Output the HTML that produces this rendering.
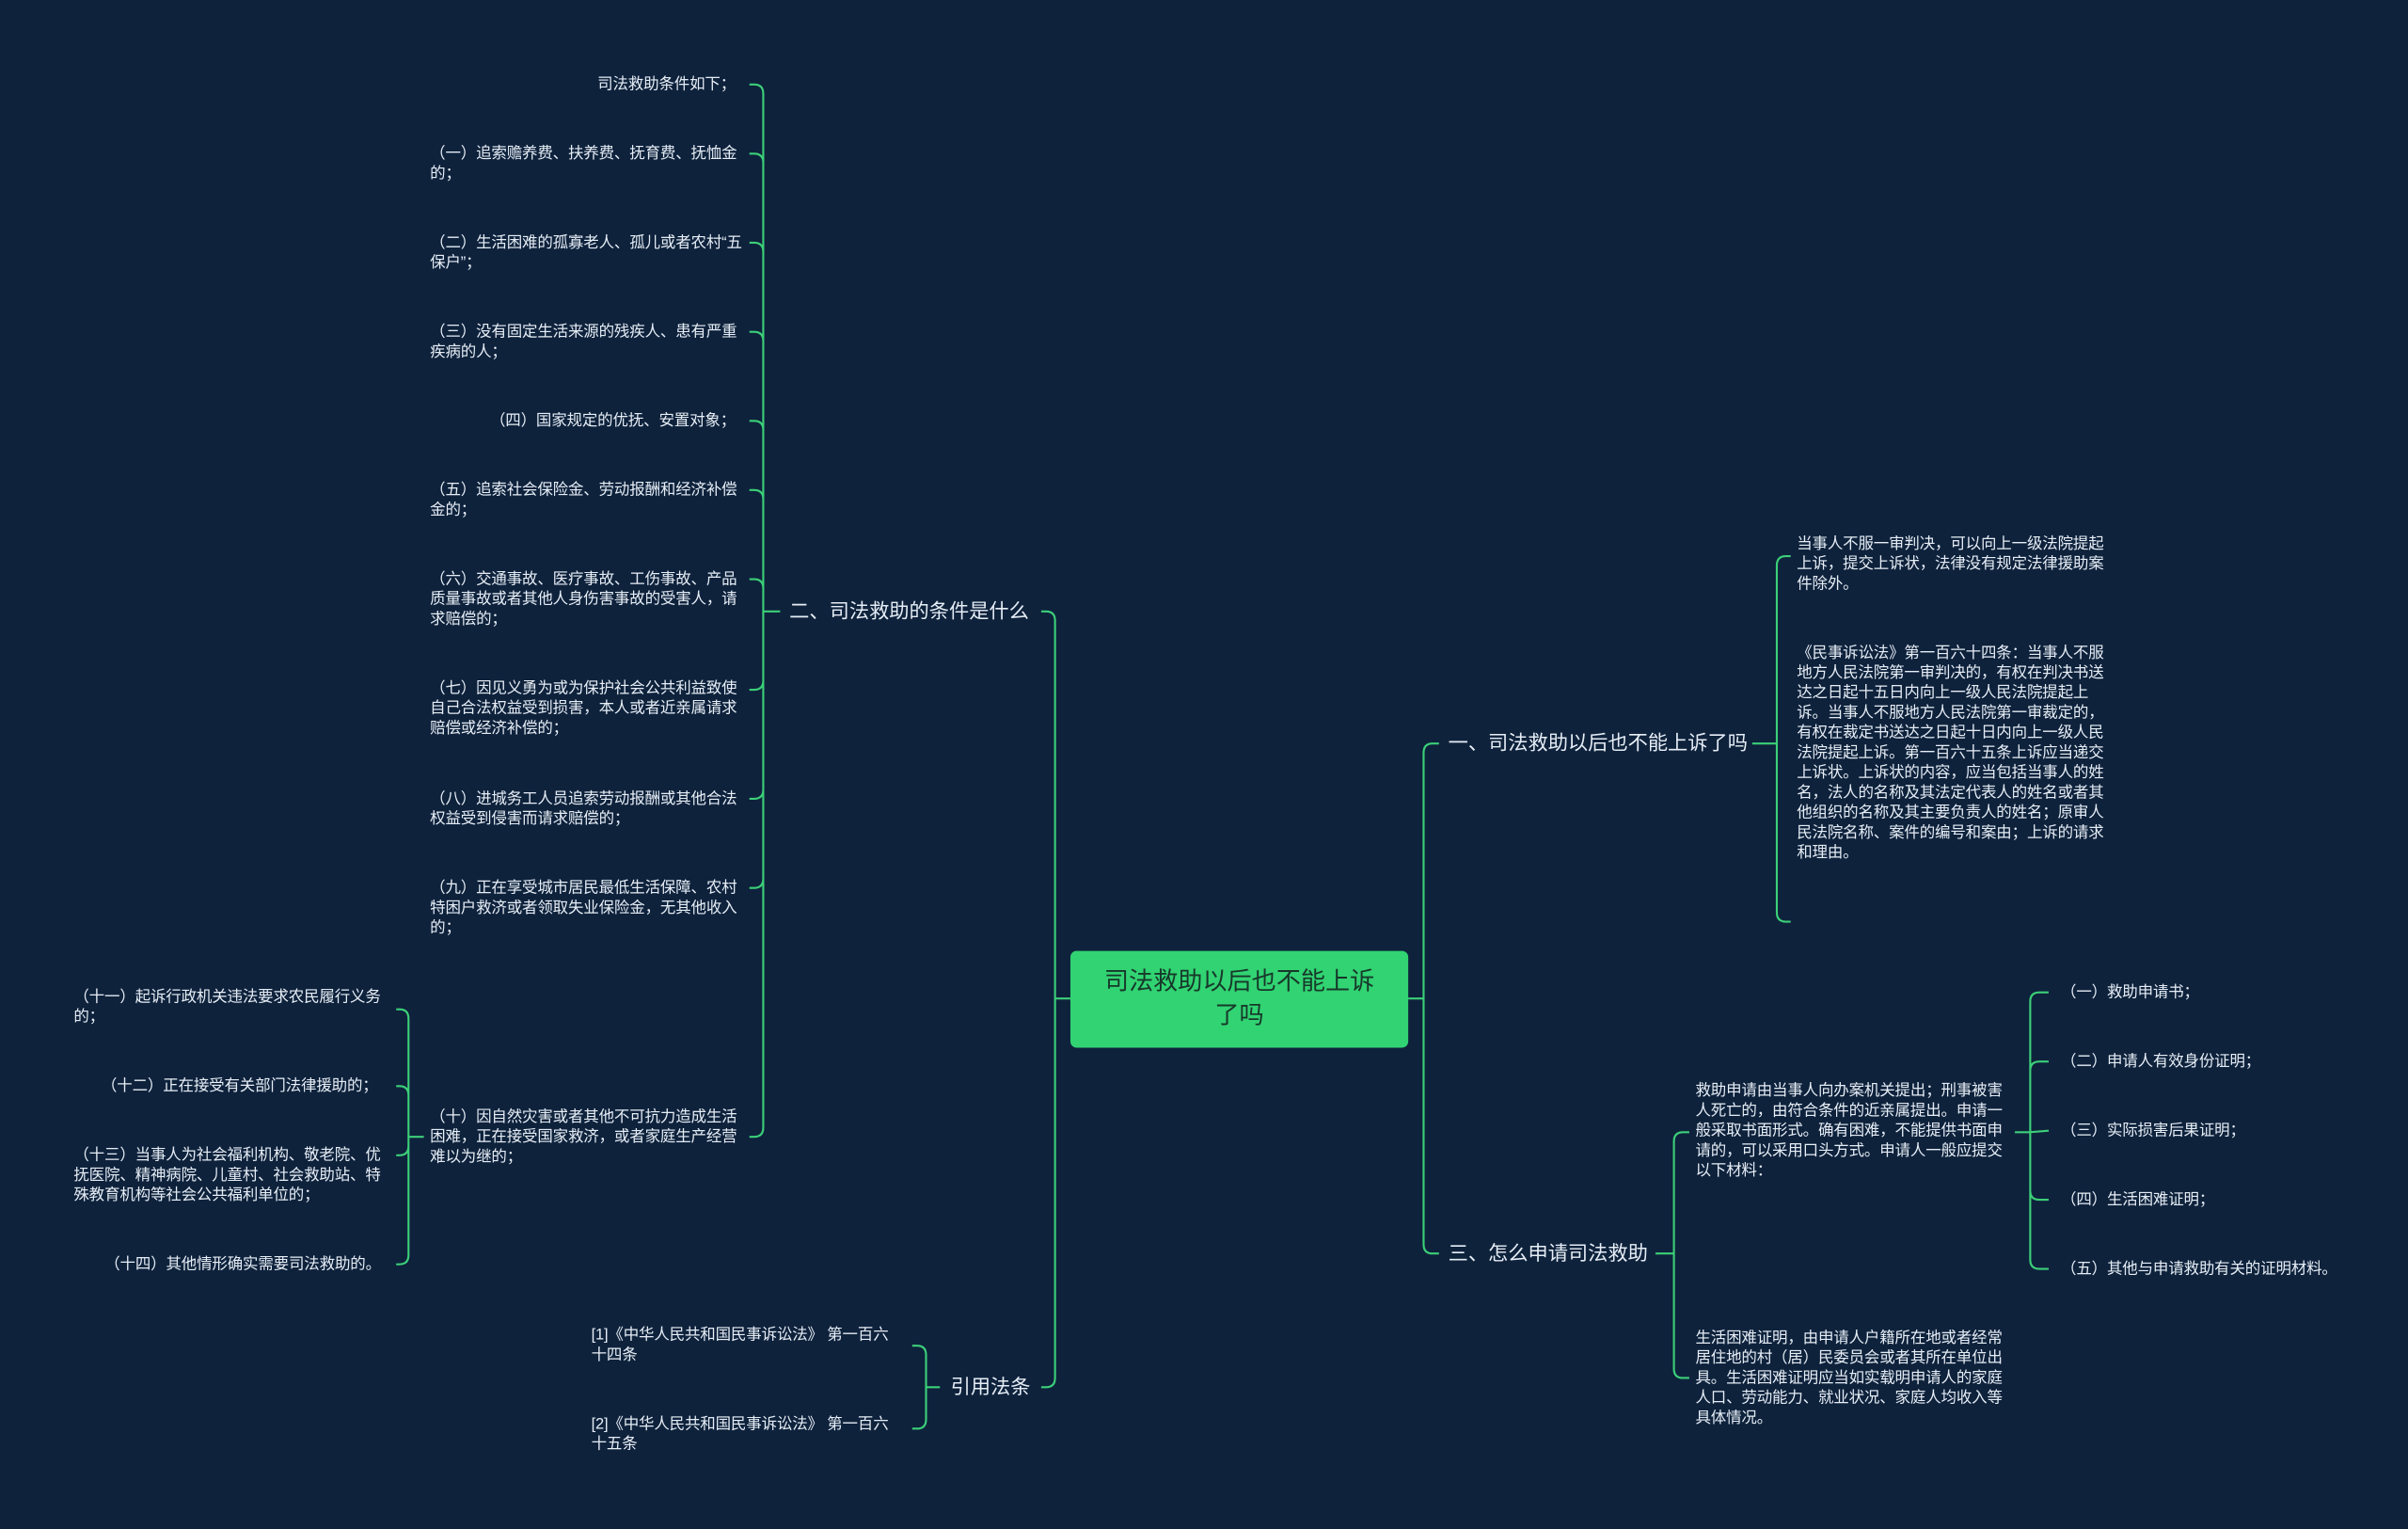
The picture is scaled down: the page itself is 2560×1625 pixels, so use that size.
<!DOCTYPE html>
<html><head><meta charset="utf-8">
<style>
html,body{margin:0;padding:0;background:#0e223c;overflow:hidden}
#stage{position:absolute;left:0;top:0;width:1568px;height:995px;transform:scale(1.63265);transform-origin:0 0;background:#0e223c;font-family:"Liberation Sans","Noto Sans CJK SC",sans-serif}
.t{position:absolute;color:#e6edf5;font-size:10.1px;line-height:13px;width:205px;letter-spacing:-0.1px}
.r{text-align:right}
.l{position:absolute;color:#e6edf5;font-size:13px;line-height:16px;white-space:nowrap}
#root{position:absolute;left:697px;top:619px;width:220px;height:63px;background:#31d372;border-radius:4px;color:#17382a;font-size:16px;line-height:22px;text-align:center;display:flex;align-items:center;justify-content:center;padding:0 18px;box-sizing:border-box}
svg{position:absolute;left:0;top:0}
</style></head><body>
<div id="stage">
<svg id="s" width="1568" height="995"></svg>
<div id="root">司法救助以后也不能上诉了吗</div>

<div class="l" style="left:514px;top:390px">二、司法救助的条件是什么</div>
<div class="l" style="left:619px;top:895px">引用法条</div>
<div class="l" style="left:943px;top:476px">一、司法救助以后也不能上诉了吗</div>
<div class="l" style="left:943px;top:808px">三、怎么申请司法救助</div>

<div class="t r" style="left:280px;top:49px;width:199px">司法救助条件如下；</div>
<div class="t" style="left:280px;top:94px">（一）追索赡养费、扶养费、抚育费、抚恤金的；</div>
<div class="t" style="left:280px;top:152px">（二）生活困难的孤寡老人、孤儿或者农村“五保户”；</div>
<div class="t" style="left:280px;top:210px">（三）没有固定生活来源的残疾人、患有严重疾病的人；</div>
<div class="t r" style="left:280px;top:268px;width:199px">（四）国家规定的优抚、安置对象；</div>
<div class="t" style="left:280px;top:313px">（五）追索社会保险金、劳动报酬和经济补偿金的；</div>
<div class="t" style="left:280px;top:371px">（六）交通事故、医疗事故、工伤事故、产品质量事故或者其他人身伤害事故的受害人，请求赔偿的；</div>
<div class="t" style="left:280px;top:442px">（七）因见义勇为或为保护社会公共利益致使自己合法权益受到损害，本人或者近亲属请求赔偿或经济补偿的；</div>
<div class="t" style="left:280px;top:514px">（八）进城务工人员追索劳动报酬或其他合法权益受到侵害而请求赔偿的；</div>
<div class="t" style="left:280px;top:572px">（九）正在享受城市居民最低生活保障、农村特困户救济或者领取失业保险金，无其他收入的；</div>
<div class="t" style="left:280px;top:721px">（十）因自然灾害或者其他不可抗力造成生活困难，正在接受国家救济，或者家庭生产经营难以为继的；</div>

<div class="t" style="left:48px;top:643px">（十一）起诉行政机关违法要求农民履行义务的；</div>
<div class="t r" style="left:48px;top:701px;width:198px">（十二）正在接受有关部门法律援助的；</div>
<div class="t" style="left:48px;top:746px">（十三）当事人为社会福利机构、敬老院、优抚医院、精神病院、儿童村、社会救助站、特殊教育机构等社会公共福利单位的；</div>
<div class="t r" style="left:40px;top:817px;width:208px">（十四）其他情形确实需要司法救助的。</div>

<div class="t" style="left:385px;top:863px;width:202px">[1]《中华人民共和国民事诉讼法》 第一百六十四条</div>
<div class="t" style="left:385px;top:921px;width:202px">[2]《中华人民共和国民事诉讼法》 第一百六十五条</div>

<div class="t" style="left:1170px;top:348px">当事人不服一审判决，可以向上一级法院提起上诉，提交上诉状，法律没有规定法律援助案件除外。</div>
<div class="t" style="left:1170px;top:419px">《民事诉讼法》第一百六十四条：当事人不服地方人民法院第一审判决的，有权在判决书送达之日起十五日内向上一级人民法院提起上诉。当事人不服地方人民法院第一审裁定的，有权在裁定书送达之日起十日内向上一级人民法院提起上诉。第一百六十五条上诉应当递交上诉状。上诉状的内容，应当包括当事人的姓名，法人的名称及其法定代表人的姓名或者其他组织的名称及其主要负责人的姓名；原审人民法院名称、案件的编号和案由；上诉的请求和理由。</div>

<div class="t" style="left:1104px;top:704px">救助申请由当事人向办案机关提出；刑事被害人死亡的，由符合条件的近亲属提出。申请一般采取书面形式。确有困难，不能提供书面申请的，可以采用口头方式。申请人一般应提交以下材料：</div>
<div class="t" style="left:1104px;top:865px">生活困难证明，由申请人户籍所在地或者经常居住地的村（居）民委员会或者其所在单位出具。生活困难证明应当如实载明申请人的家庭人口、劳动能力、就业状况、家庭人均收入等具体情况。</div>

<div class="t" style="left:1342px;top:640px;width:220px">（一）救助申请书；</div>
<div class="t" style="left:1342px;top:685px;width:220px">（二）申请人有效身份证明；</div>
<div class="t" style="left:1342px;top:730px;width:220px">（三）实际损害后果证明；</div>
<div class="t" style="left:1342px;top:775px;width:220px">（四）生活困难证明；</div>
<div class="t" style="left:1342px;top:820px;width:220px;white-space:nowrap">（五）其他与申请救助有关的证明材料。</div>
</div>
<script>
var s=document.getElementById('s'),d='';
function br(xp,yp,x,ys,xc){
  var dir=xc>x?1:-1,r=6;
  ys.forEach(function(y){
    d+='M'+xp+' '+yp+' L'+x+' '+yp;
    if(Math.abs(y-yp)<r){d+=' L'+xc+' '+y;}
    else{var sg=y>yp?1:-1;d+=' L'+x+' '+(y-sg*r)+' Q'+x+' '+y+' '+(x+dir*r)+' '+y+' L'+xc+' '+y;}
    d+=' ';
  });
}
br(697,650,687,[398,903],678);
br(917,650,927,[484,816],937);
br(508,398,497,[55,100,158,216,274,319,377,449,520,578,740],488);
br(276,740,266,[657,707,752,823],258);
br(612,903,603,[876,930],594);
br(1141,484,1157,[362,600],1166);
br(1078,816,1090,[737,897],1100);
br(1312,737,1322,[646,691,736,781,826],1334);
s.innerHTML='<path d="'+d+'" fill="none" stroke="#3ccf78" stroke-width="1.3"/>';
</script>
</body></html>
